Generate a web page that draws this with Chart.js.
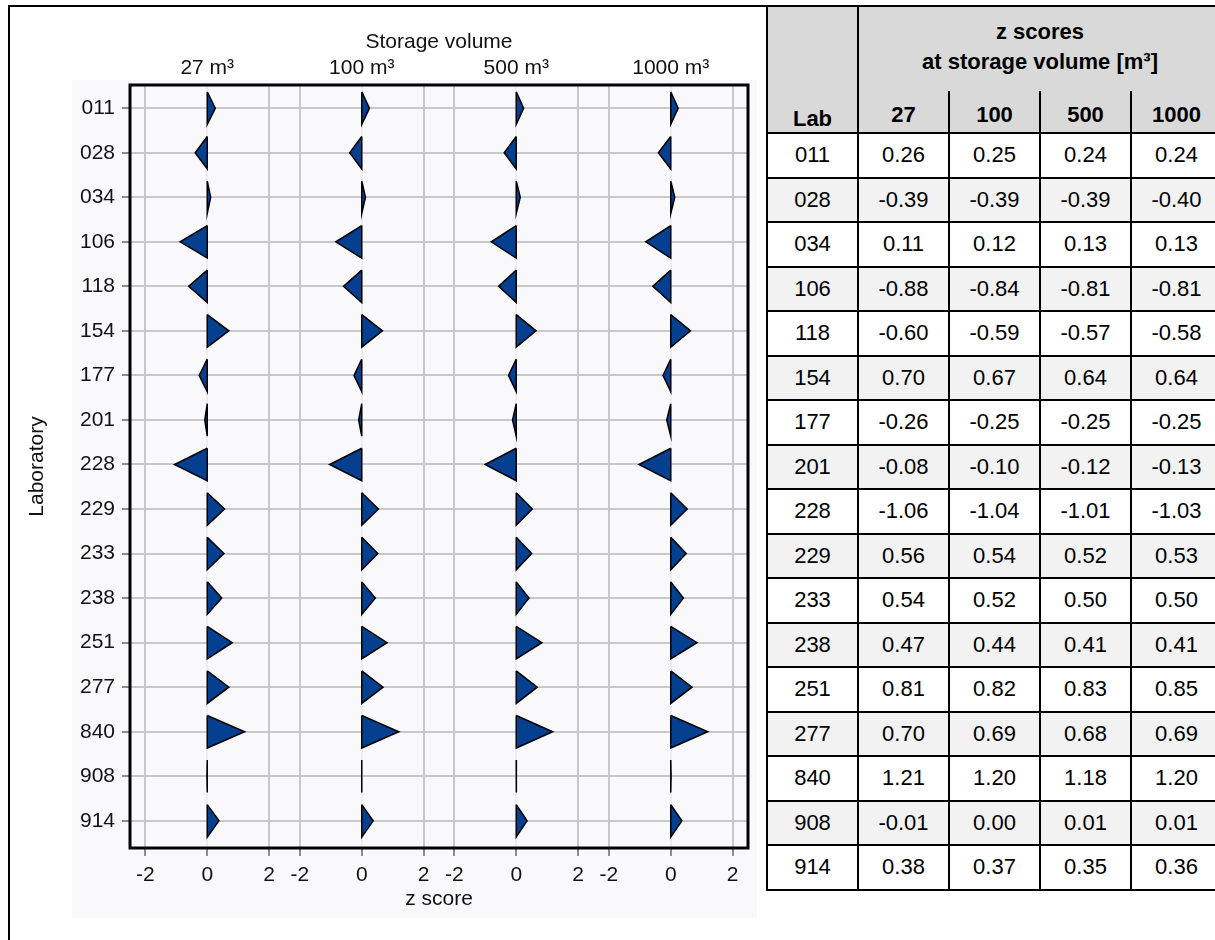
<!DOCTYPE html>
<html>
<head>
<meta charset="utf-8">
<title>z scores by storage volume</title>
<script src="https://cdn.jsdelivr.net/npm/chart.js@4.4.0/dist/chart.umd.min.js"></script>
<style>
    body { margin: 0; background: #fff; font-family: "Liberation Sans", Arial, sans-serif; }
    #wrap { position: relative; width: 1215px; height: 940px; overflow: hidden; }
    #frame {
        position: absolute; left: 8px; top: 5px; width: 760px; height: 960px;
        border: 2px solid #000; border-right: none; box-sizing: border-box;
    }
    #panel-bg { position: absolute; left: 72px; top: 80px; width: 685px; height: 838px; background: #f9f9fb; }
    #chart { position: absolute; left: 0; top: 0; }
    #zt {
        position: absolute; left: 766px; top: 5px; width: 475px; border-collapse: collapse;
        font-size: 22px; color: #000; table-layout: fixed;
    }
    #zt td, #zt th { border: 2px solid #000; text-align: center; padding: 0; }
    #zt thead th { background: #d9d9d9; font-weight: bold; }
    #zt .row-top { height: 85px; }
    #zt .head-top { border-bottom: none; line-height: 30px; vertical-align: top; padding-top: 10px; padding-right: 20px; }
    #zt .head-cols { height: 42px; }
    #zt .head-cols th { border-top: none; padding-top: 6px; }
    #zt .head-cols th:last-child { padding-right: 20px; }
    #zt .lab-head { vertical-align: bottom; padding-bottom: 0; }
    #zt tbody tr { height: 44.5px; }
    #zt tbody td:last-child { padding-right: 20px; }
    #zt tbody tr:nth-child(even) td { background: #f2f2f2; }
</style>
</head>
<body>
<div id="wrap">
    <div id="frame"></div>
    <div id="panel-bg"></div>
    <canvas id="chart" width="766" height="940"></canvas>
    <table id="zt">
        <colgroup>
            <col style="width:91px"><col style="width:91px"><col style="width:91px"><col style="width:91px"><col style="width:111px">
        </colgroup>
        <thead>
            <tr class="row-top">
                <th class="lab-head" rowspan="2">Lab</th>
                <th class="head-top" colspan="4">z scores<br>at storage volume [m³]</th>
            </tr>
            <tr class="head-cols" id="vol-head"></tr>
        </thead>
        <tbody></tbody>
    </table>
</div>
<script>
// Data
const labs = ['011', '028', '034', '106', '118', '154', '177', '201', '228', '229', '233', '238', '251', '277', '840', '908', '914'];
const volumes = ['27', '100', '500', '1000'];
const z27   = [0.26, -0.39, 0.11, -0.88, -0.60, 0.70, -0.26, -0.08, -1.06, 0.56, 0.54, 0.47, 0.81, 0.70, 1.21, -0.01, 0.38];
const z100  = [0.25, -0.39, 0.12, -0.84, -0.59, 0.67, -0.25, -0.10, -1.04, 0.54, 0.52, 0.44, 0.82, 0.69, 1.20, 0.00, 0.37];
const z500  = [0.24, -0.39, 0.13, -0.81, -0.57, 0.64, -0.25, -0.12, -1.01, 0.52, 0.50, 0.41, 0.83, 0.68, 1.18, 0.01, 0.35];
const z1000 = [0.24, -0.40, 0.13, -0.81, -0.58, 0.64, -0.25, -0.13, -1.03, 0.53, 0.50, 0.41, 0.85, 0.69, 1.20, 0.01, 0.36];
const zTicks = [-2, 0, 2];

const series = [z27, z100, z500, z1000];

// each volume gets its own panel of width PANEL on one shared x axis
const PANEL = 5;
const HALF = 0.365;          // half height of a triangle, in rows
const offsets = volumes.map((_, k) => k * PANEL);

// Table
document.getElementById('vol-head').innerHTML = volumes.map(v => `<th>${v}</th>`).join('');
const tbody = document.querySelector('#zt tbody');
labs.forEach((lab, i) => {
    const tr = document.createElement('tr');
    tr.innerHTML = `<td>${lab}</td>` + series.map(s => `<td>${s[i].toFixed(2)}</td>`).join('');
    tbody.appendChild(tr);
});

// Triangle per lab: vertical base at z = 0, tip at the z score
function triangles(z, off) {
    const pts = [];
    z.forEach((v, i) => {
        pts.push({ x: off, y: i - HALF }, { x: off, y: i + HALF }, { x: off + v, y: i }, { x: off, y: i - HALF });
        pts.push({ x: off, y: null });
    });
    return pts;
}

const datasets = series.map((z, k) => ({
    label: volumes[k] + ' m³',
    data: triangles(z, offsets[k]),
    fill: 'shape',
    backgroundColor: '#053f8f',
    borderColor: '#000',
    borderWidth: 1.5,
    borderJoinStyle: 'miter',
    pointRadius: 0,
    tension: 0
}));

const panelOf = v => offsets[Math.round(v / PANEL)];

// thick frame round the plot area
const plotFrame = {
    id: 'plotFrame',
    afterDatasetsDraw(chart) {
        const { ctx, chartArea: a } = chart;
        ctx.save();
        ctx.lineWidth = 3;
        ctx.strokeStyle = '#000';
        ctx.strokeRect(a.left, a.top, a.right - a.left, a.bottom - a.top);
        ctx.restore();
    }
};

Chart.defaults.font.family = '"Liberation Sans", Arial, sans-serif';
Chart.defaults.font.size = 21;
Chart.defaults.color = '#111';

const xMin = -PANEL / 2;
const xMax = offsets[offsets.length - 1] + PANEL / 2;

new Chart(document.getElementById('chart'), {
    type: 'line',
    data: { datasets },
    plugins: [plotFrame],
    options: {
        responsive: false,
        animation: false,
        layout: { padding: { left: 0, right: 18, top: 0, bottom: 0 } },
        plugins: { legend: { display: false }, tooltip: { enabled: false } },
        scales: {
            x: {
                type: 'linear',
                position: 'bottom',
                min: xMin,
                max: xMax,
                afterFit: s => { s.height = 92; },
                afterBuildTicks: s => {
                    s.ticks = offsets.flatMap(o => zTicks.map(t => ({ value: o + t })));
                },
                ticks: {
                    padding: 7,
                    autoSkip: false,
                    maxRotation: 0,
                    callback: v => String(v - panelOf(v))
                },
                grid: {
                    lineWidth: 2,
                    tickLength: 8,
                    tickColor: '#8c8c8c',
                    color: c => (c.tick && c.tick.value - panelOf(c.tick.value) === 0) ? '#ededed' : '#c8c8c8'
                },
                border: { display: false },
                title: { display: true, text: 'z score', padding: { top: 0, bottom: 28 } }
            },
            xTop: {
                type: 'linear',
                position: 'top',
                min: xMin,
                max: xMax,
                afterFit: s => { s.height = 85; },
                afterBuildTicks: s => {
                    s.ticks = offsets.map(o => ({ value: o }));
                },
                ticks: {
                    padding: 4,
                    autoSkip: false,
                    maxRotation: 0,
                    callback: v => volumes[Math.round(v / PANEL)] + ' m³'
                },
                grid: { display: false, drawTicks: false },
                border: { display: false },
                title: { display: true, text: 'Storage volume', padding: { top: 30, bottom: 0 } }
            },
            y: {
                type: 'linear',
                reverse: true,
                min: -0.52,
                max: labs.length - 1 + 0.61,
                afterFit: s => { s.width = 130; },
                afterBuildTicks: s => {
                    s.ticks = labs.map((_, i) => ({ value: i }));
                },
                ticks: {
                    padding: 7,
                    autoSkip: false,
                    callback: v => labs[v]
                },
                grid: { lineWidth: 2, tickLength: 8, tickColor: '#8c8c8c', color: '#c8c8c8' },
                border: { display: false },
                title: { display: true, text: 'Laboratory', padding: { top: 25, bottom: 0 } }
            }
        }
    }
});
</script>
</body>
</html>
